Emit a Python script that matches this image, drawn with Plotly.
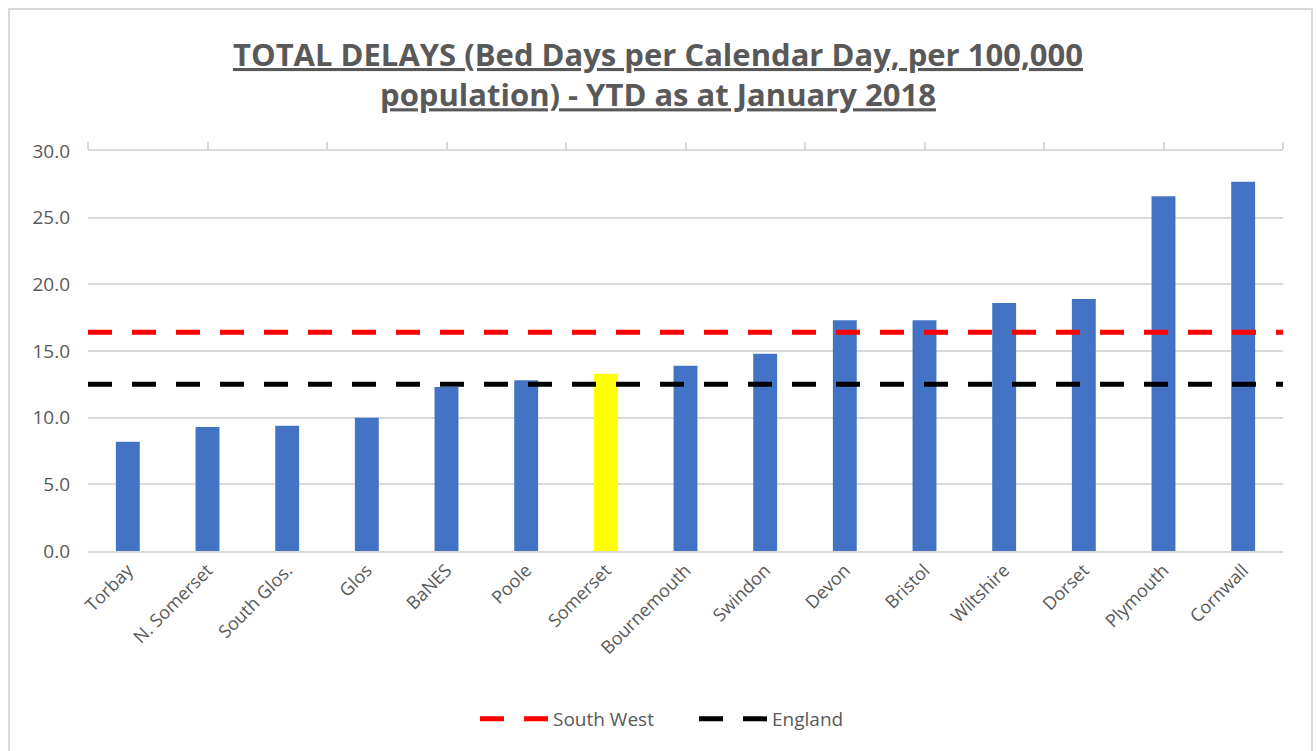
import plotly.graph_objects as go

categories = ["Torbay", "N. Somerset", "South Glos.", "Glos", "BaNES", "Poole", "Somerset",
              "Bournemouth", "Swindon", "Devon", "Bristol", "Wiltshire", "Dorset", "Plymouth", "Cornwall"]
values = [8.2, 9.3, 9.4, 10.0, 12.3, 12.8, 13.3, 13.9, 14.8, 17.3, 17.3, 18.6, 18.9, 26.6, 27.7]
highlight = "Somerset"
south_west = 16.4
england = 12.5
line_points = list(range(11))
y_ticks = [0, 5, 10, 15, 20, 25, 30]

BLUE = "#4472C4"
YELLOW = "#FFFF00"
GRAY_TXT = "#595959"
GRID = "#D9D9D9"
FONT = "Open Sans"

bar_colors = [YELLOW if c == highlight else BLUE for c in categories]

fig = go.Figure()
fig.add_trace(go.Bar(x=categories, y=values, marker=dict(color=bar_colors, line=dict(width=0)),
                     showlegend=False, xaxis="x", yaxis="y"))
fig.add_trace(go.Scatter(x=line_points, y=[south_west] * len(line_points), mode="lines",
                         name="South West", line=dict(color="#FF0000", width=5, dash="24px,20px"),
                         xaxis="x2", yaxis="y"))
fig.add_trace(go.Scatter(x=line_points, y=[england] * len(line_points), mode="lines",
                         name="England", line=dict(color="#000000", width=5, dash="24px,20px"),
                         xaxis="x2", yaxis="y"))

fig.update_layout(
    width=1316, height=751,
    margin=dict(l=88, r=33, t=151, b=200),
    paper_bgcolor="white", plot_bgcolor="white",
    font=dict(family=FONT, color=GRAY_TXT, size=18),
    title=dict(text="<b><u>TOTAL DELAYS (Bed Days per Calendar Day, per 100,000</u></b><br><b><u>population) - YTD as at January 2018</u></b>",
               x=0.5, xref="container", xanchor="center", yref="container", y=1 - 66 / 751, yanchor="top",
               font=dict(family=FONT, size=31, color=GRAY_TXT)),
    bargap=0.7,
    xaxis=dict(type="category", showgrid=False, showline=True, linecolor=GRID, linewidth=1.5,
               ticks="", tickangle=-45, tickfont=dict(size=18, color=GRAY_TXT), zeroline=False),
    xaxis2=dict(overlaying="x", side="top", range=[0, 10], dtick=1, showticklabels=False,
                ticks="outside", ticklen=7, tickcolor=GRID, tickwidth=1.5, showline=True,
                linecolor=GRID, linewidth=1.5, showgrid=False, zeroline=False),
    yaxis=dict(range=[0, 30], tickvals=y_ticks, tickformat=".1f", showgrid=True, gridcolor=GRID,
               gridwidth=1.5, zeroline=False, showline=False, ticks="", ticklabelstandoff=17,
               tickfont=dict(size=19, color=GRAY_TXT)),
    legend=dict(orientation="h", x=(694 - 88) / 1195, xanchor="center", y=-0.42, yanchor="middle",
                font=dict(size=19, color=GRAY_TXT), itemwidth=68,
                entrywidthmode="pixels", entrywidth=136),
    shapes=[dict(type="rect", xref="paper", yref="paper",
                 x0=-79 / 1195, x1=1 + 29 / 1195, y0=-210 / 400, y1=1 + 142 / 400,
                 line=dict(color=GRID, width=2), fillcolor="rgba(0,0,0,0)", layer="below")],
)

fig.write_html("out.html", config={"displayModeBar": False},
               post_script="document.body.style.margin='0px';")
